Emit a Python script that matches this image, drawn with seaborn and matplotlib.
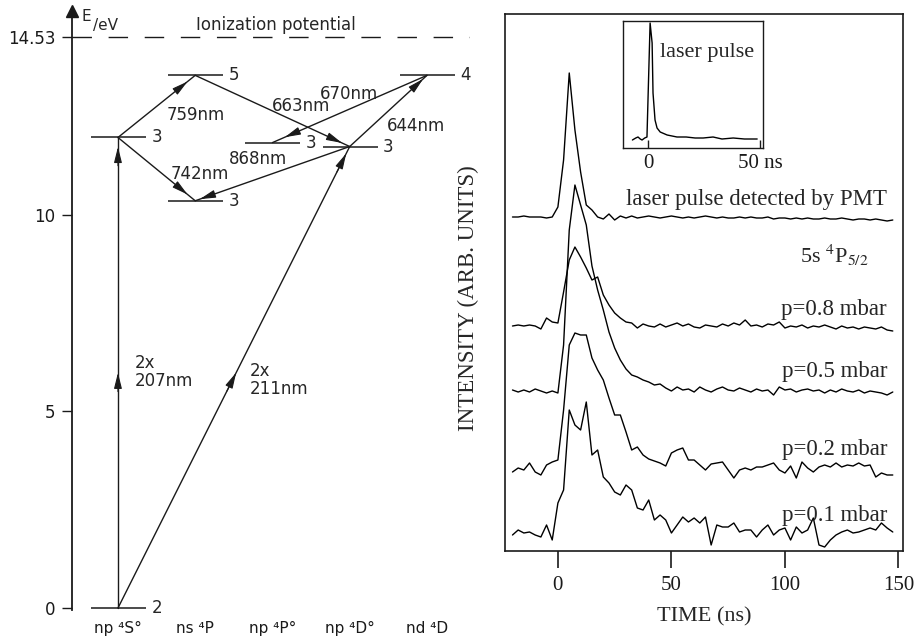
import numpy as np
import pandas as pd
import matplotlib
matplotlib.use('Agg')
import matplotlib.pyplot as plt
import seaborn as sns

sns.set_theme(style='white')
plt.rcParams['font.family'] = ['DejaVu Sans']
plt.rcParams['mathtext.fontset'] = 'stix'
SERIF = 'Liberation Serif'

# ---- term diagram (left) ----
term_labels = ['np ⁴S°', 'ns ⁴P', 'np ⁴P°', 'np ⁴D°', 'nd ⁴D']
level_cols = [0, 0, 1, 1, 2, 3, 4]
level_energy = [0.0, 11.97, 13.55, 10.36, 11.84, 11.74, 13.55]
level_j = ['2', '3', '5', '3', '3', '3', '4']
ionization_ev = 14.53
energy_ticks = [0, 5, 10, 14.53]

trans_from = [0, 0, 1, 1, 2, 5, 5, 6]
trans_to = [1, 5, 2, 3, 5, 3, 6, 4]
trans_labels = ['2x\n207nm', '2x\n211nm', '759nm', '742nm', '663nm', '868nm', '644nm', '670nm']

# ---- time-resolved fluorescence (right), sampled every 2.5 ns ----
time_ns = np.arange(-20, 150, 2.5)
trace_names = ['laser pulse', 'p=0.8 mbar', 'p=0.5 mbar', 'p=0.2 mbar', 'p=0.1 mbar']
trace_offsets = [334, 225, 161, 81, 16]

laser_pmt = [0, 0, 1, 0, 0, 0, -1, 0, 10, 57, 144, 87, 45, 12, 7, 0, -2, 3, -3, 1,
             -1, 1, -1, 0, 1, 0, -1, 0, 1, 0, -1, 0, -1, 0, 1, 0, -1, 0, -1, -1,
             0, -1, 0, -1, -1, 0, -2, -1, -1, -2, -1, -2, -1, -2, -2, -1, -2, -2, -1, -2,
             -3, -2, -2, -3, -2, -3, -4, -3]
p08 = [0, 1, 0, 1, 0, -3, 8, 4, 3, 34, 66, 79, 69, 58, 46, 49, 31, 21, 13, 8,
       4, 3, -2, 2, 0, -1, 2, -1, 1, 3, 0, 2, -1, -2, 1, 0, -1, 2, 0, 3,
       1, 6, 0, 1, -1, 2, 1, 4, -2, 0, -1, 1, -2, 0, -1, 1, -1, -3, 0, -2,
       -1, -3, -1, -2, -3, -1, -4, -5]
p05 = [0, -2, 0, -2, 1, -1, -3, -1, -3, 45, 160, 205, 185, 165, 124, 100, 80, 58, 42, 30,
       21, 15, 13, 10, 8, 5, 6, 2, -1, 3, 0, 1, -2, 3, 0, -2, 1, 3, 0, -1,
       2, 0, -2, 1, -1, 0, -5, 3, 0, 1, -2, 0, 1, -1, 0, -3, 0, -2, 1, -1,
       -2, 0, -3, -1, -2, -3, -5, -2]
p02 = [-2, 2, 0, 7, -2, -5, 5, 8, 10, 60, 125, 137, 135, 135, 112, 100, 90, 72, 55, 55,
       38, 20, 23, 15, 11, 9, 7, 4, 17, 20, 22, 10, 10, 5, 0, 6, 7, 8, 0, -8,
       0, 2, 0, 3, 3, 5, 7, 0, -3, 4, -8, 8, 2, -2, 3, 5, 3, 7, 3, 5,
       4, 7, 4, 5, -7, -3, -5, -5]
p01 = [0, 5, 2, 3, 0, -2, 10, -5, 32, 45, 125, 110, 105, 133, 80, 85, 58, 52, 43, 40,
       50, 45, 27, 25, 35, 15, 20, 15, 2, 10, 18, 13, 17, 12, 18, -10, 10, 8, 8, 12,
       3, 5, 5, -2, 5, 10, 0, 5, 7, -5, 8, 2, 5, 17, -10, -12, -5, 0, 3, 5,
       2, 3, 5, 7, 5, 12, 7, 3]

# inset: laser pulse on a shorter time base
inset_time = [-7, -5.5, -4.5, -3.5, -2.7, -1.5, -0.5, 0.2, 0.9, 1.8, 2.2, 3.1, 4.0, 5.4,
              8.5, 12.9, 17, 21, 24.6, 29, 33, 38, 43, 48.7]
inset_signal = [0, 2, 3, 1, 0, 2, 3, 60, 117, 97, 47, 20, 12, 8,
                5, 3, 3, 2, 2, 3, 1, 2, 1, 1]

fig = plt.figure(figsize=(9.21, 6.36), dpi=100)

# ================= left: term scheme =================
ax = fig.add_axes([72 / 921, 26 / 636, 398 / 921, 599.5 / 636])
ax.set_xlim(-0.595, 4.557)
ax.set_ylim(-0.05, 15.2)
for s in ['top', 'right', 'bottom']:
    ax.spines[s].set_visible(False)
ax.spines['left'].set_color('k')
ax.spines['left'].set_linewidth(1.3)
ax.plot(0, 1, marker='^', ms=8, color='k', transform=ax.transAxes, clip_on=False)
ax.text(0.035, 0.99, 'E', transform=ax.transAxes, fontsize=11, ha='center', va='center')
ax.text(0.085, 0.975, '/eV', transform=ax.transAxes, fontsize=11, ha='center', va='center')

ax.set_yticks(energy_ticks, ['0', '5', '10', '14.53'])
ax.set_xticks(range(len(term_labels)), term_labels)
ax.tick_params(axis='y', left=True, direction='out', length=7, width=1, labelsize=12, pad=5, colors='k')
ax.tick_params(axis='x', bottom=False, labelsize=11, pad=2, colors='k')
ax.grid(False)

ax.axhline(ionization_ev, color='k', lw=1, linestyle=(0, (14, 12)))
ax.text(2.05, ionization_ev + 0.08, 'Ionization potential', fontsize=12, ha='center', va='bottom')

lc = np.array(level_cols, dtype=float)
le = np.array(level_energy)
ax.hlines(le, lc - 0.35, lc + 0.36, color='k', lw=1.1, clip_on=False)
for c, e, j in zip(lc, le, level_j):
    ax.text(c + 0.5, e, j, fontsize=12, ha='center', va='center')


def head(p0, p1, f):
    xa = p0[0] + (p1[0] - p0[0]) * (f - 0.04)
    ya = p0[1] + (p1[1] - p0[1]) * (f - 0.04)
    xb = p0[0] + (p1[0] - p0[0]) * f
    yb = p0[1] + (p1[1] - p0[1]) * f
    ax.annotate('', xy=(xb, yb), xytext=(xa, ya),
                arrowprops=dict(arrowstyle='-|>,head_length=0.8,head_width=0.2',
                                color='k', lw=0.8, shrinkA=0, shrinkB=0, mutation_scale=12))


head_fracs = [[0.5, 0.98], [0.51, 0.985], [0.9], [0.9], [0.95], [0.97], [0.95], [0.92]]
label_pos = [(0.22, 6.0, 'left'), (1.71, 5.8, 'left'), (1.01, 12.55, 'center'), (1.06, 11.05, 'center'),
             (2.37, 12.78, 'center'), (1.81, 11.41, 'center'), (3.86, 12.25, 'center'), (2.99, 13.08, 'center')]
for a, b, lab, fr, (tx, ty, ha) in zip(trans_from, trans_to, trans_labels, head_fracs, label_pos):
    p0 = (lc[a], le[a])
    p1 = (lc[b], le[b])
    ax.plot([p0[0], p1[0]], [p0[1], p1[1]], color='k', lw=1.0)
    for f in fr:
        head(p0, p1, f)
    ax.text(tx, ty, lab, fontsize=12, ha=ha, va='center', linespacing=1.0)

# ================= right: decay curves =================
axr = fig.add_axes([505 / 921, 85 / 636, 398 / 921, 537 / 636])
frames = []
for name, vals, off in zip(trace_names, [laser_pmt, p08, p05, p02, p01], trace_offsets):
    frames.append(pd.DataFrame({'time': time_ns, 'signal': np.array(vals) + off, 'trace': name}))
df = pd.concat(frames, ignore_index=True)
sns.lineplot(data=df, x='time', y='signal', units='trace', estimator=None, sort=False,
             color='black', linewidth=1.0, legend=False, ax=axr)
axr.set_xlim(-23.3, 152)
axr.set_ylim(0, 537)
axr.set_yticks([])
axr.set_xticks([0, 50, 100, 150], ['0', '50', '100', '150'], fontfamily=SERIF)
axr.tick_params(axis='x', bottom=True, direction='out', length=12, width=1.2, labelsize=15, pad=6, colors='k')
for s in axr.spines.values():
    s.set_color('k')
    s.set_linewidth(1.2)
axr.set_xlabel('TIME (ns)', fontsize=16, family=SERIF)
axr.xaxis.set_label_coords(0.5, -0.105)
axr.set_ylabel('INTENSITY (ARB. UNITS)', fontsize=16.5, family=SERIF)
axr.yaxis.set_label_coords(-0.065, 0.47)
axr.grid(False)

axr.text(145, 351, 'laser pulse detected by PMT', fontsize=16.5, family=SERIF, ha='right', va='center')
axr.text(137, 296, r'5s $^4$P$_{5/2}$', fontsize=16, family=SERIF, ha='right', va='center')
for name, y in zip(trace_names[1:], [241, 180, 101, 36]):
    axr.text(145, y, name, fontsize=16.5, family=SERIF, ha='right', va='center')

# inset
axi = fig.add_axes([623 / 921, 488 / 636, 140 / 921, 127 / 636])
sns.lineplot(x=inset_time, y=inset_signal, color='black', linewidth=1.0, ax=axi)
axi.set_xlim(-11.2, 51.3)
axi.set_ylim(-8, 119)
axi.set_yticks([])
axi.set_xticks([0, 50], ['0', '50 ns'], fontfamily=SERIF)
axi.tick_params(axis='x', bottom=True, direction='in', length=6, width=1, labelsize=15, pad=4, colors='k')
for s in axi.spines.values():
    s.set_color('k')
    s.set_linewidth(1.0)
axi.grid(False)
axi.text(5.4, 88, 'laser pulse', fontsize=16, family=SERIF, ha='left', va='center')

fig.savefig('out.png', dpi=100, facecolor='white')
